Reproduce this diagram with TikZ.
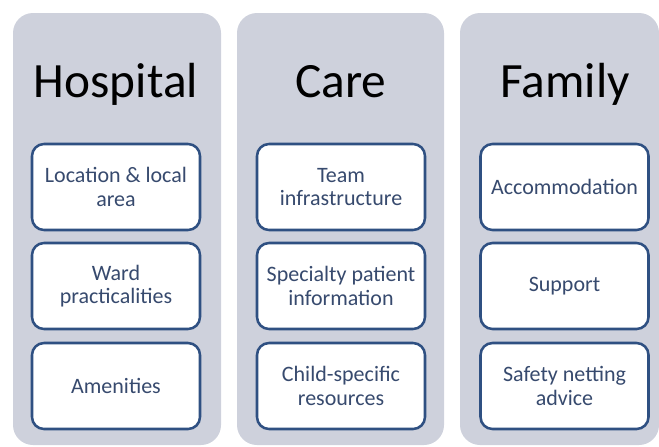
\documentclass[tikz,border=0pt]{standalone}
\usepackage{fontspec}
\setmainfont{Carlito}
\usetikzlibrary{positioning}
\definecolor{colgray}{RGB}{206,209,220}
\definecolor{boxblue}{RGB}{47,80,130}
\definecolor{textblue}{RGB}{55,74,110}
\tikzset{
    column/.style={fill=colgray, draw=none, rounded corners=15pt},
    title/.style={anchor=base, font=\fontsize{37}{40}\selectfont, text=black},
    item/.style={draw=boxblue, line width=1.9pt, fill=white, rounded corners=9pt,
        minimum width=126pt, minimum height=64.5pt, inner sep=2pt, outer sep=0pt,
        align=center, text=textblue, font=\fontsize{16.5}{17.5}\selectfont}
}

\begin{document}
\begin{tikzpicture}[x=0.75pt, y=-0.75pt]
    \useasboundingbox (0,0) rectangle (659,446);
    % columns
    \fill[column] (13,13) rectangle (221,445);
    \fill[column] (237,13) rectangle (444,445);
    \fill[column] (460,13) rectangle (659,445);
    % titles
    \node[title] (hospital) at (116,97) {Hospital};
    \node[title] (care) at (341,97) {Care};
    \node[title] (family) at (565,97) {Family};
    % hospital
    \node[item] (location) at (116,187) {Location \& local\\area};
    \node[item, below=9.75pt of location] (ward) {Ward\\practicalities};
    \node[item, below=10.5pt of ward] (amenities) {Amenities};
    % care
    \node[item] (team) at (341,187) {Team\\infrastructure};
    \node[item, below=9.75pt of team] (specialty) {Specialty patient\\information};
    \node[item, below=10.5pt of specialty] (child) {Child-specific\\resources};
    % family
    \node[item] (accommodation) at (564.5,187) {Accommodation};
    \node[item, below=9.75pt of accommodation] (support) {Support};
    \node[item, below=10.5pt of support] (safety) {Safety netting\\advice};
\end{tikzpicture}
\end{document}
